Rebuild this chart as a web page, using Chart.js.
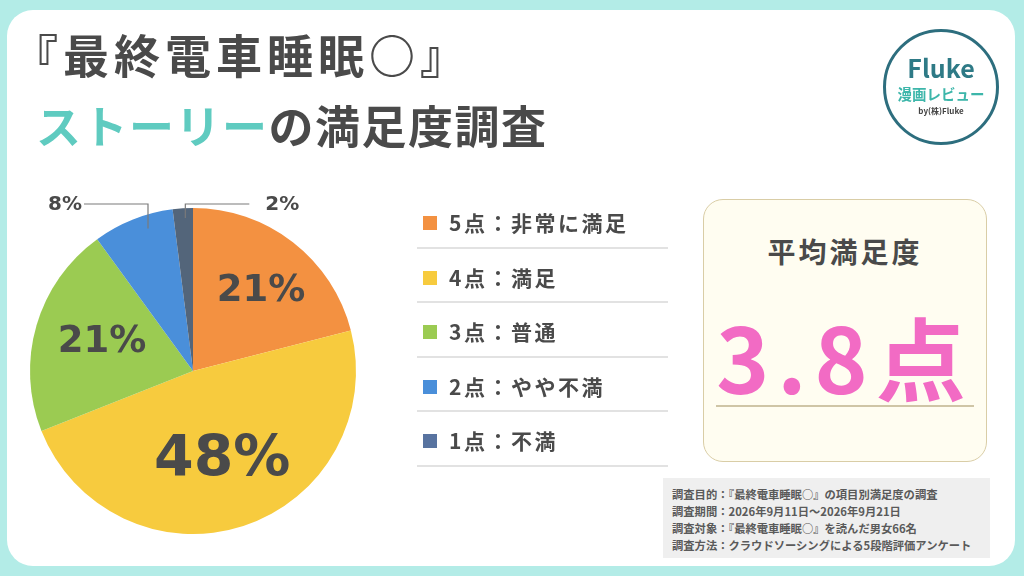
<!DOCTYPE html>
<html lang="ja">
<head>
<meta charset="utf-8">
<script src="https://cdn.jsdelivr.net/npm/chart.js@4"></script>
<style>
  html, body { margin:0; padding:0; }
  body { width:1024px; height:576px; background:#B3ECE7; position:relative; overflow:hidden;
         font-family:"Noto Sans CJK JP","Noto Sans",sans-serif; color:#484848; }
  #panel { position:absolute; left:7px; top:10px; width:1008px; height:556px; background:#fff; border-radius:26px; }
  #c { position:absolute; left:0; top:0; z-index:2; }
  .abs { position:absolute; z-index:3; }
  #t1 { left:12px; top:30px; font-size:46px; font-weight:700; letter-spacing:5px; color:#4a4a4a; line-height:1; white-space:nowrap; }
  #t2 { left:36px; top:102px; font-size:45px; font-weight:700; letter-spacing:1.5px; color:#4a4a4a; line-height:1; white-space:nowrap; }
  #t2 .hl { color:#5FCBC0; }
  #logo { left:883px; top:29px; width:110px; height:110px; border:3px solid #2D6E7E; border-radius:50%; box-sizing:content-box; background:#fff; }
  #logo .f { position:absolute; left:0; right:0; top:23px; text-align:center; font-family:"Noto Sans CJK JP",sans-serif; font-weight:700; font-size:25px; color:#2E7A86; line-height:1; }
  #logo .m { position:absolute; left:0; right:0; top:55px; text-align:center; font-weight:700; font-size:14.5px; color:#3DB6AA; line-height:1; }
  #logo .b { position:absolute; left:0; right:0; top:75px; text-align:center; font-weight:700; font-size:8px; color:#444; line-height:1; }
  #legend { left:417px; top:194px; width:251px; }
  .row { height:54.5px; border-bottom:2px solid #E2E2E2; box-sizing:border-box; position:relative; }
  .row .sq { position:absolute; left:6px; top:22px; width:14px; height:14px; }
  .row .tx { position:absolute; left:32px; top:15px; font-size:21px; font-weight:700; letter-spacing:2.5px; color:#4a4a4a; line-height:1.3; white-space:nowrap; }
  #card { left:703px; top:199px; width:284px; height:263px; background:#FFFDF1; border:1.5px solid #D9CDA6; border-radius:20px; box-sizing:border-box; }
  #card .h { position:absolute; left:0; right:0; top:37px; text-align:center; font-size:28px; font-weight:700; letter-spacing:3px; color:#4a4a4a; line-height:1; }
  #card .v { position:absolute; left:0; right:0; top:110px; text-align:center; font-size:90px; font-weight:700; letter-spacing:8px; color:#F26BC4; line-height:1; }
  #card .u { position:absolute; left:12px; right:12px; top:205px; height:0; border-top:2px solid #CFC5A6; }
  #note { left:663px; top:478px; width:327px; height:80px; background:#EFEFEF; }
  #note div { font-size:11.3px; font-weight:700; color:#5a5a5a; line-height:17px; white-space:nowrap; margin-left:9px; }
  #note .first { margin-top:8px; }
</style>
</head>
<body>
<div id="panel"></div>
<canvas id="c" width="1024" height="576"></canvas>
<div id="t1" class="abs">『最終電車睡眠○』</div>
<div id="t2" class="abs"><span class="hl">ストーリー</span>の満足度調査</div>
<div id="logo" class="abs"><div class="f">Fluke</div><div class="m">漫画レビュー</div><div class="b">by(株)Fluke</div></div>
<div id="legend" class="abs"></div>
<div id="card" class="abs"><div class="h">平均満足度</div><div class="v" id="avg"></div><div class="u"></div></div>
<div id="note" class="abs"></div>
<script>
// ---- data ----
const categories = ["5点：非常に満足", "4点：満足", "3点：普通", "2点：やや不満", "1点：不満"];
const percents = [21, 48, 21, 8, 2];
const sliceColors = ["#F39141", "#F7CB3E", "#9BCB52", "#4A8FDA", "#53657A"];
const legendColors = ["#F39141", "#F7CB3E", "#9BCB52", "#4A8FDA", "#5873A0"];
const averageScore = "3.8点";
const surveyNotes = [
  "調査目的：『最終電車睡眠○』の項目別満足度の調査",
  "調査期間：2026年9月11日～2026年9月21日",
  "調査対象：『最終電車睡眠○』を読んだ男女66名",
  "調査方法：クラウドソーシングによる5段階評価アンケート"
];

// ---- html parts ----
const lg = document.getElementById('legend');
categories.forEach((c, i) => {
  const r = document.createElement('div'); r.className = 'row';
  r.innerHTML = '<div class="sq" style="background:' + legendColors[i] + '"></div><div class="tx">' + c + '</div>';
  lg.appendChild(r);
});
document.getElementById('avg').textContent = averageScore;
const nt = document.getElementById('note');
surveyNotes.forEach((s, i) => { const d = document.createElement('div'); d.textContent = s; if (i === 0) d.className = 'first'; nt.appendChild(d); });

// ---- labels plugin ----
const labelPlugin = {
  id: 'pieLabels',
  afterDatasetsDraw(chart) {
    const ctx = chart.ctx;
    const meta = chart.getDatasetMeta(0);
    const data = chart.data.datasets[0].data;
    ctx.save();
    meta.data.forEach((arc, i) => {
      const p = arc.getProps(['x', 'y', 'startAngle', 'endAngle', 'outerRadius'], true);
      const mid = (p.startAngle + p.endAngle) / 2;
      const R = p.outerRadius;
      const txt = data[i] + '%';
      ctx.fillStyle = '#4a4a4a';
      if (data[i] >= 10) {
        const big = data[i] >= 40;
        const fr = big ? 0.58 : 0.62;
        ctx.font = 'bold ' + (big ? 57 : 37) + 'px "DejaVu Sans", "Noto Sans", sans-serif';
        ctx.textAlign = 'center'; ctx.textBaseline = 'middle';
        ctx.fillText(txt, p.x + Math.cos(mid) * R * fr + (big ? 0 : 6), p.y + Math.sin(mid) * R * fr);
      } else {
        const ax = p.x + Math.cos(mid) * R * 0.75;
        const ay = p.y + Math.sin(mid) * R * 0.94;
        const topY = p.y - R - 4;
        const left = Math.cos(mid) * R < -20;
        const len = 64;
        const ex = left ? ax - len : ax + len;
        ctx.strokeStyle = '#7a7a7a'; ctx.lineWidth = 1.2;
        ctx.beginPath(); ctx.moveTo(ax, ay); ctx.lineTo(ax, topY); ctx.lineTo(ex, topY); ctx.stroke();
        ctx.font = 'bold 20px "DejaVu Sans", "Noto Sans", sans-serif';
        ctx.textBaseline = 'middle';
        ctx.textAlign = left ? 'right' : 'left';
        ctx.fillText(txt, left ? ex - 2 : ex + 16, topY + 1);
      }
    });
    ctx.restore();
  }
};

new Chart(document.getElementById('c'), {
  type: 'pie',
  data: { labels: categories, datasets: [{ data: percents, backgroundColor: sliceColors, borderWidth: 0 }] },
  options: {
    responsive: false, animation: false,
    layout: { padding: { left: 28, right: 666, top: 208, bottom: 42 } },
    plugins: { legend: { display: false }, tooltip: { enabled: false } }
  },
  plugins: [labelPlugin]
});
</script>
</body>
</html>
